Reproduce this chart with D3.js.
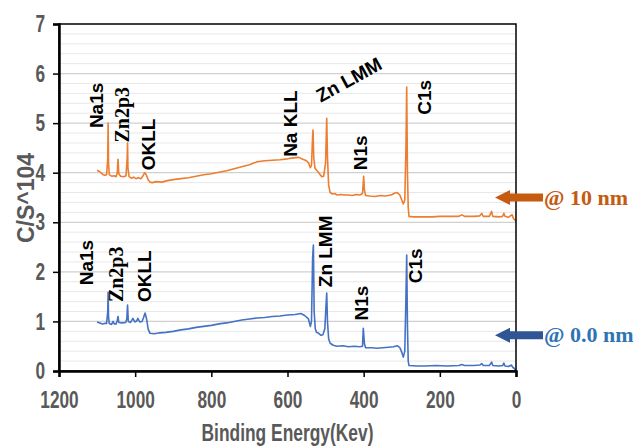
<!DOCTYPE html>
<html>
<head>
<meta charset="utf-8">
<script src="https://cdn.jsdelivr.net/npm/d3@7"></script>
<style>
  body { margin: 0; background: #fff; }
  svg { display: block; }
  .tick text { font-family: "Liberation Sans", Arial, sans-serif; font-weight: bold; fill: #595959; }
  .peak { font-family: "Liberation Sans", Arial, sans-serif; font-weight: bold; fill: #000; }
  .peak.serif { font-family: "Liberation Serif", "Times New Roman", serif; }
</style>
</head>
<body>
<div id="container"></div>
<script>
// binding energy ticks + count ticks
const xTicks = [1200, 1000, 800, 600, 400, 200, 0];
const yTicks = [0, 1, 2, 3, 4, 5, 6, 7];

// spectrum @ 10 nm  [energy, C/S x10^4]
const orangeSeries = [
  [1100,4.05],[1093,4.02],[1086,3.97],[1080,3.95],[1075,3.96],[1072,4.3],[1071,5.0],[1070,4.2],[1068,3.96],
  [1062,3.93],[1055,3.94],[1050,3.92],[1047,4.0],[1045,4.27],[1043,3.98],[1038,3.93],[1030,3.92],[1024,3.94],
  [1021,4.3],[1020,4.6],[1019,4.1],[1016,3.92],[1010,3.89],[1004,3.91],[998,3.88],[992,3.9],[985,3.88],
  [980,3.93],[975,4.0],[971,3.96],[966,3.86],[961,3.81],[955,3.8],[945,3.82],[930,3.81],[915,3.84],[900,3.86],
  [880,3.88],[860,3.9],[840,3.93],[820,3.96],[800,3.98],[780,4.01],[760,4.04],[740,4.08],[720,4.12],[700,4.16],
  [680,4.22],[660,4.24],[640,4.25],[620,4.26],[600,4.28],[585,4.30],[570,4.31],[560,4.27],[550,4.24],[545,4.2],
  [540,4.1],[537,4.15],[534,4.75],[533,4.86],[531,4.3],[528,4.1],[525,4.06],[520,4.02],[515,3.97],[510,3.92],
  [505,3.93],[500,4.2],[497,5.1],[495,4.3],[492,3.75],[488,3.6],[482,3.57],[475,3.58],[470,3.55],[460,3.56],
  [450,3.55],[440,3.55],[430,3.54],[420,3.56],[410,3.55],[403,3.58],[400,3.93],[398,3.65],[395,3.54],[385,3.53],
  [370,3.52],[355,3.54],[345,3.53],[335,3.54],[325,3.56],[318,3.59],[312,3.60],[305,3.55],[300,3.45],[296,3.37],
  [292,3.45],[289,4.5],[287,5.73],[285,4.0],[283,3.3],[281,3.12],[270,3.11],[250,3.11],[220,3.11],[200,3.12],
  [170,3.12],[150,3.12],[142,3.15],[135,3.12],[110,3.12],[95,3.13],[90,3.18],[86,3.12],[70,3.12],[64,3.22],
  [61,3.12],[45,3.11],[35,3.12],[32,3.18],[29,3.12],[20,3.1],[13,3.14],[10,3.15],[7,3.08],[3,3.05],[0,3.02]
];

// spectrum @ 0.0 nm
const blueSeries = [
  [1100,0.99],[1093,0.97],[1086,0.95],[1080,0.96],[1075,0.96],[1072,1.2],[1071,1.59],[1070,1.1],[1068,0.96],
  [1062,0.94],[1058,1.0],[1055,0.95],[1050,0.95],[1047,1.02],[1045,1.1],[1043,0.98],[1035,0.97],[1025,0.98],
  [1022,1.05],[1020,1.33],[1018,1.0],[1012,0.98],[1006,1.06],[1001,0.99],[996,1.01],[993,1.06],[988,0.99],
  [982,1.0],[978,1.08],[974,1.17],[970,1.05],[966,0.85],[961,0.76],[950,0.75],[935,0.77],[920,0.78],[900,0.8],
  [880,0.83],[860,0.85],[840,0.88],[820,0.9],[800,0.92],[780,0.95],[760,0.97],[740,1.0],[720,1.03],[700,1.05],
  [680,1.07],[660,1.08],[640,1.1],[620,1.11],[600,1.13],[580,1.14],[565,1.16],[555,1.12],[545,1.05],[540,0.9],
  [537,1.0],[534,2.3],[532,2.54],[530,1.2],[527,0.85],[524,0.78],[518,0.76],[512,0.72],[507,0.73],[502,0.85],
  [499,1.3],[497,1.57],[495,1.0],[492,0.65],[488,0.56],[480,0.52],[470,0.5],[455,0.51],[440,0.49],[425,0.5],
  [410,0.49],[403,0.5],[401,0.86],[398,0.55],[395,0.47],[380,0.47],[365,0.46],[350,0.47],[335,0.48],[322,0.49],
  [312,0.51],[305,0.47],[300,0.38],[296,0.28],[292,0.4],[289,1.5],[287,2.34],[285,0.9],[283,0.2],[281,0.11],
  [260,0.1],[240,0.1],[210,0.11],[180,0.1],[150,0.11],[142,0.13],[135,0.11],[110,0.11],[95,0.12],[90,0.15],
  [86,0.11],[70,0.11],[64,0.18],[61,0.11],[45,0.1],[35,0.11],[32,0.16],[29,0.1],[20,0.09],[12,0.12],[8,0.07],
  [4,0.05],[0,0.0]
];

// peak labels: text, energy, count where the text starts, rotation, serif?
const orangeLabels = [
  ["Na1s", 1103, 4.9, -90, false],
  ["Zn2p3", 1035, 4.61, -90, true],
  ["OKLL", 966, 4.05, -90, false],
  ["Na KLL", 593, 4.32, -90, false],
  ["Zn LMM", 513, 5.41, -29, false],
  ["N1s", 410, 4.05, -90, false],
  ["C1s", 241, 5.17, -90, false]
];
const blueLabels = [
  ["Na1s", 1129, 1.73, -90, false],
  ["Zn2p3", 1050, 1.39, -90, true],
  ["OKLL", 977, 1.39, -90, false],
  ["Zn LMM", 501, 1.69, -90, false],
  ["N1s", 407, 1.02, -90, false],
  ["C1s", 265, 1.77, -90, false]
];

// depth markers: text, count level of the arrow, arrow colour, text colour
const depthMarks = [
  ["@ 10 nm", 3.5, "#C55A11", "#C55A11"],
  ["@ 0.0 nm", 0.72, "#2F5597", "#2E74B5"]
];

var W = 633, H = 447;
var m = {top: 24, right: 117, bottom: 76, left: 59};

var svg = d3.select("#container").append("svg")
  .attr("width", W)
  .attr("height", H);

var x = d3.scaleLinear().domain([1200, 0]).range([m.left, W - m.right]);
var y = d3.scaleLinear().domain([0, 7]).range([H - m.bottom, m.top]);

// gridlines - minor every 0.2, major every 1
var minor = d3.range(0.2, 7, 0.2).filter(function (d) { return Math.abs(d - Math.round(d)) > 0.01; });
svg.append("g").selectAll("line")
  .data(minor)
  .enter().append("line")
  .attr("x1", m.left).attr("x2", W - m.right)
  .attr("y1", function (d) { return y(d); })
  .attr("y2", function (d) { return y(d); })
  .attr("stroke", "#e8e8e8").attr("stroke-width", 1);
svg.append("g").selectAll("line")
  .data(yTicks.slice(1, -1))
  .enter().append("line")
  .attr("x1", m.left).attr("x2", W - m.right)
  .attr("y1", function (d) { return y(d); })
  .attr("y2", function (d) { return y(d); })
  .attr("stroke", "#d0d0d0").attr("stroke-width", 1.2);

// spectra
var line = d3.line()
  .x(function (d) { return x(d[0]); })
  .y(function (d) { return y(d[1]); });

svg.append("path").datum(orangeSeries)
  .attr("d", line).attr("fill", "none")
  .attr("stroke", "#ED7D31").attr("stroke-width", 1.6).attr("stroke-linejoin", "round");
svg.append("path").datum(blueSeries)
  .attr("d", line).attr("fill", "none")
  .attr("stroke", "#4472C4").attr("stroke-width", 1.6).attr("stroke-linejoin", "round");

// frame (top + right)
svg.append("rect")
  .attr("x", m.left).attr("y", m.top)
  .attr("width", W - m.right - m.left).attr("height", H - m.bottom - m.top)
  .attr("fill", "none").attr("stroke", "#000").attr("stroke-width", 1.5);

// axes
var xAxis = d3.axisBottom(x).tickValues(xTicks).tickFormat(d3.format("d")).tickSize(6).tickPadding(14);
var yAxis = d3.axisLeft(y).tickValues(yTicks).tickFormat(d3.format("d")).tickSize(6).tickPadding(8);

var gx = svg.append("g")
  .attr("transform", "translate(0," + (H - m.bottom) + ")")
  .call(xAxis);
var gy = svg.append("g")
  .attr("transform", "translate(" + m.left + ",0)")
  .call(yAxis);

// narrow-looking tick labels: squeeze glyphs to a fixed width per digit
[gx, gy].forEach(function (g) {
  g.select(".domain").attr("stroke", "#000").attr("stroke-width", 2.5);
  g.selectAll(".tick line").attr("stroke", "#000").attr("stroke-width", 1.5);
  g.selectAll(".tick text")
    .style("font-size", "24px")
    .attr("textLength", function (d) { return String(d).length * 9.6; })
    .attr("lengthAdjust", "spacingAndGlyphs");
});

// axis titles
svg.append("text")
  .attr("x", (m.left + W - m.right) / 2)
  .attr("y", 441)
  .attr("text-anchor", "middle")
  .attr("textLength", 172)
  .attr("lengthAdjust", "spacingAndGlyphs")
  .style("font-family", "'Liberation Sans', Arial, sans-serif")
  .style("font-weight", "bold").style("font-size", "23px").style("fill", "#595959")
  .text("Binding Energy(Kev)");

svg.append("text")
  .attr("transform", "translate(34," + 198 + ") rotate(-90)")
  .attr("text-anchor", "middle")
  .style("font-family", "'Liberation Sans', Arial, sans-serif")
  .style("font-weight", "bold").style("font-size", "23px").style("fill", "#595959")
  .text("C/S^104");

// peak labels
function drawLabels(labels) {
  svg.append("g").selectAll("text")
    .data(labels)
    .enter().append("text")
    .attr("class", function (d) { return d[4] ? "peak serif" : "peak"; })
    .attr("transform", function (d) { return "translate(" + x(d[1]) + "," + y(d[2]) + ") rotate(" + d[3] + ")"; })
    .attr("dy", function (d) { return d[3] === -90 ? "0.36em" : "0"; })
    .style("font-size", function (d) { return d[4] ? "20px" : "19px"; })
    .text(function (d) { return d[0]; });
}
drawLabels(orangeLabels);
drawLabels(blueLabels);

// arrows pointing at each spectrum + depth text
var ax0 = W - m.right - 21;
var marks = svg.append("g").selectAll("g")
  .data(depthMarks)
  .enter().append("g")
  .attr("transform", function (d) { return "translate(" + ax0 + "," + y(d[1]) + ")"; });

marks.append("path")
  .attr("d", "M0,0 L15,-7.5 L15,-4 L48,-4 L48,4 L15,4 L15,7.5 Z")
  .attr("fill", function (d) { return d[2]; });

marks.append("text")
  .attr("x", 49)
  .attr("y", 7)
  .style("font-family", "'Liberation Serif', 'Times New Roman', serif")
  .style("font-weight", "bold").style("font-size", "22px")
  .style("fill", function (d) { return d[3]; })
  .text(function (d) { return d[0]; });
</script>
</body>
</html>
